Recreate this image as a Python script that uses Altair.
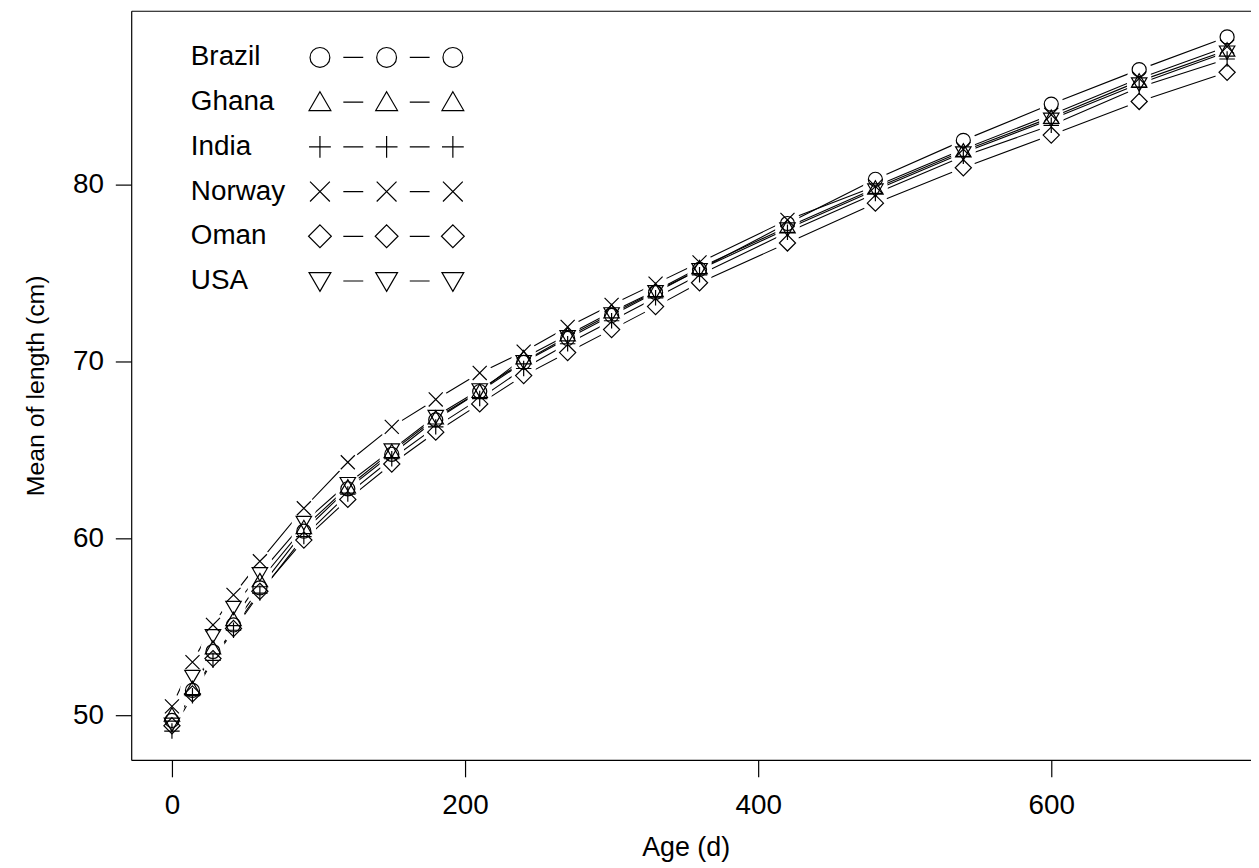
import altair as alt
import pandas as pd

countries = ["Brazil", "Ghana", "India", "Norway", "Oman", "USA"]
ages = [0, 14, 28, 42, 60, 90, 120, 150, 180, 210, 240, 270, 300, 330, 360,
        420, 480, 540, 600, 660, 720]

brazil = [49.7, 51.4, 53.6, 55.1, 57.2, 60.4, 62.8, 64.75, 66.7, 68.3, 69.95,
          71.3, 72.6, 73.9, 75.2, 77.8, 80.3, 82.5, 84.55, 86.5, 88.35]
ghana = [50.0, 51.5, 53.8, 55.4, 57.6, 60.6, 62.9, 64.9, 66.8, 68.3, 70.2,
         71.5, 72.8, 74.0, 75.3, 77.6, 79.8, 81.9, 83.8, 85.85, 87.6]
india = [49.1, 51.1, 53.1, 54.8, 56.9, 60.1, 62.5, 64.5, 66.3, 67.9, 69.6,
         71.0, 72.3, 73.6, 74.9, 77.3, 79.5, 81.6, 83.35, 85.5, 87.1]
norway = [50.5, 53.0, 55.1, 56.8, 58.7, 61.7, 64.3, 66.3, 67.85, 69.35, 70.55,
          71.95, 73.2, 74.4, 75.6, 78.0, 79.9, 82.0, 83.95, 86.0, 87.8]
oman = [49.4, 51.2, 53.2, 54.9, 57.0, 59.9, 62.2, 64.2, 66.0, 67.6, 69.2,
        70.5, 71.8, 73.1, 74.45, 76.7, 78.95, 80.95, 82.8, 84.7, 86.35]
usa = [49.5, 52.2, 54.5, 56.1, 58.0, 60.9, 63.1, 65.0, 66.9, 68.4, 70.0,
       71.4, 72.7, 73.95, 75.2, 77.5, 79.7, 81.8, 83.7, 85.7, 87.5]

x_ticks = [0, 200, 400, 600]
y_ticks = [50, 60, 70, 80]

series = [brazil, ghana, india, norway, oman, usa]
rows = []
for c, vals in zip(countries, series):
    for a, v in zip(ages, vals):
        rows.append({"country": c, "age": a, "length": v})
df = pd.DataFrame(rows)


def f(v):
    return f"{v:.3f}"


def circle_p(cx, r):
    return (f"M{f(cx + r)},0A{f(r)},{f(r)} 0 1 1 {f(cx - r)},0"
            f"A{f(r)},{f(r)} 0 1 1 {f(cx + r)},0Z")


def tri_up_p(cx, r):
    return f"M{f(cx)},{f(-1.05 * r)}L{f(cx + 1.1 * r)},{f(0.85 * r)}L{f(cx - 1.1 * r)},{f(0.85 * r)}Z"


def plus_p(cx, r):
    return f"M{f(cx - 1.1 * r)},0L{f(cx + 1.1 * r)},0M{f(cx)},{f(-1.1 * r)}L{f(cx)},{f(1.1 * r)}"


def x_p(cx, r):
    return f"M{f(cx - r)},{f(-r)}L{f(cx + r)},{f(r)}M{f(cx - r)},{f(r)}L{f(cx + r)},{f(-r)}"


def diamond_p(cx, r):
    return f"M{f(cx)},{f(-1.15 * r)}L{f(cx + 1.15 * r)},0L{f(cx)},{f(1.15 * r)}L{f(cx - 1.15 * r)},0Z"


def tri_down_p(cx, r):
    return f"M{f(cx)},{f(1.05 * r)}L{f(cx + 1.1 * r)},{f(-0.85 * r)}L{f(cx - 1.1 * r)},{f(-0.85 * r)}Z"


shape_fns = [circle_p, tri_up_p, plus_p, x_p, diamond_p, tri_down_p]
plot_shapes = [fn(0, 1.0) for fn in shape_fns]

# legend key: three markers joined by short dashes, drawn right of the label
centers = [13.71, 20.10, 26.45]
dashes = "M15.95,0L17.86,0M22.32,0L24.22,0"
legend_shapes = ["".join(fn(cx, 0.95) for cx in centers) + dashes for fn in shape_fns]

FONT = "Liberation Sans"
LFS = 28
TFS = 27

xs = alt.Scale(domain=[-27.8, 736.3], nice=False, zero=False)
ys = alt.Scale(domain=[47.47, 89.83], nice=False, zero=False)

x_axis_bottom = alt.Axis(
    values=x_ticks, title="Age (d)", grid=False, orient="bottom",
    tickSize=17, tickWidth=1.2, tickColor="black",
    domainColor="black", domainWidth=1.2,
    labelFont=FONT, labelFontSize=LFS, labelColor="black", labelPadding=15,
    titleFont=FONT, titleFontSize=TFS, titleFontWeight="normal", titleColor="black",
    titleX=558, titleY=88, titleBaseline="middle", titleAnchor="start", titleAlign="center",
)
x_axis_top = alt.Axis(
    orient="top", labels=False, ticks=False, title=None, grid=False,
    domainColor="black", domainWidth=1.2,
)
y_axis = alt.Axis(
    values=y_ticks, title="Mean of length (cm)", grid=False, orient="left",
    tickSize=16, tickWidth=1.2, tickColor="black",
    domainColor="black", domainWidth=1.2,
    labelFont=FONT, labelFontSize=LFS, labelColor="black", labelPadding=12,
    titleFont=FONT, titleFontSize=25, titleFontWeight="normal", titleColor="black",
    titleX=-96, titleY=377, titleBaseline="middle", titleAlign="center", titleAngle=270,
)

base = alt.Chart(df)

lines = base.mark_line(color="black", strokeWidth=1.1).encode(
    x=alt.X("age:Q", scale=xs, axis=x_axis_bottom),
    y=alt.Y("length:Q", scale=ys, axis=y_axis),
    detail="country:N",
)

halos = base.mark_point(filled=True, color="white", size=600, opacity=1,
                        strokeWidth=0, shape="circle").encode(
    x=alt.X("age:Q", scale=xs, axis=x_axis_top),
    y=alt.Y("length:Q", scale=ys, axis=None),
)

markers = base.mark_point(filled=False, color="black", size=200, strokeWidth=1.2,
                          opacity=1).encode(
    x=alt.X("age:Q", scale=xs, axis=None),
    y=alt.Y("length:Q", scale=ys, axis=None),
    shape=alt.Shape("country:N", scale=alt.Scale(domain=countries, range=plot_shapes),
                    legend=None),
)

legend_layer = base.transform_filter("false").mark_point(
    filled=False, color="black", size=441, strokeWidth=1.2, opacity=1
).encode(
    x=alt.X("age:Q", scale=xs, axis=None),
    y=alt.Y("length:Q", scale=ys, axis=None),
    shape=alt.Shape(
        "country:N",
        scale=alt.Scale(domain=countries, range=legend_shapes),
        legend=alt.Legend(
            title=None, orient="none", legendX=32, legendY=33,
            labelFont=FONT, labelFontSize=LFS, labelColor="black",
            labelOffset=0, symbolOffset=0, rowPadding=17,
            labelLimit=300, symbolSize=441, symbolStrokeWidth=1.2,
            symbolStrokeColor="black", symbolFillColor="transparent",
            symbolOpacity=1, padding=0,
        ),
    ),
)

chart = (
    alt.layer(lines, halos, markers, legend_layer)
    .resolve_scale(shape="independent")
    .resolve_axis(x="independent", y="independent")
    .properties(
        width=1127, height=754,
        padding={"left": 124, "top": 0, "right": 0, "bottom": 102},
        autosize=alt.AutoSizeParams(type="none"),
        background="white",
    )
    .configure_view(stroke=None)
)

chart.save("out.html", embed_options={"renderer": "svg", "actions": False})
